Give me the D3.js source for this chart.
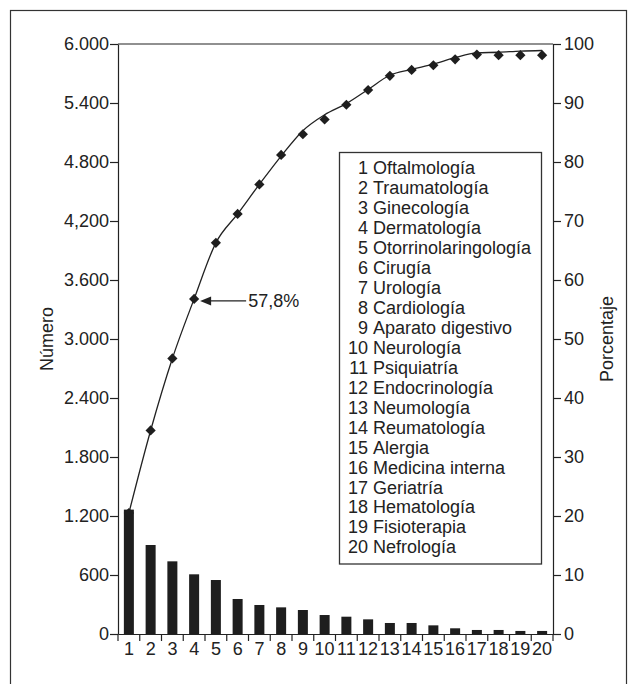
<!DOCTYPE html>
<html lang="es">
<head>
<meta charset="UTF-8">
<script src="https://d3js.org/d3.v7.min.js"></script>
<title>Pareto</title>
<style>
  body { margin: 0; background: #fff; }
  text { font-family: "Liberation Sans", Arial, sans-serif; fill: #222; }
  .axis path, .axis line { stroke: #222; stroke-width: 1.2; }
  .axis text { font-size: 18px; }
</style>
</head>
<body>
<div id="chart"></div>
<script>
// numero de especialidad (eje x)
const categories = d3.range(1, 21);
// numero de pacientes por especialidad
const counts = [1265, 905, 739, 607, 549, 356, 295, 271, 244, 193,
                176, 149, 112, 112, 88, 58, 41, 41, 31, 31];
// porcentaje acumulado (rombos)
const cumPct = [20.5, 34.5, 46.7, 56.8, 66.3, 71.2, 76.2, 81.2, 84.7, 87.2,
                89.7, 92.2, 94.6, 95.6, 96.4, 97.4, 98.2, 98.1, 98.1, 98.1];
// linea acumulada
const linePct = [20.5, 34.5, 46.7, 56.8, 66.3, 71.2, 76.2, 81.0, 85.3, 88.0,
                 89.9, 92.3, 94.7, 95.7, 96.6, 97.7, 98.5, 98.6, 98.8, 98.9];
const leftTicks = [0, 600, 1200, 1800, 2400, 3000, 3600, 4200, 4800, 5400, 6000];
const leftTickLabels = ["0", "600", "1.200", "1.800", "2.400", "3.000", "3.600", "4,200", "4.800", "5.400", "6.000"];
const rightTicks = [0, 10, 20, 30, 40, 50, 60, 70, 80, 90, 100];
const specialties = ["Oftalmología", "Traumatología", "Ginecología", "Dermatología",
  "Otorrinolaringología", "Cirugía", "Urología", "Cardiología", "Aparato digestivo",
  "Neurología", "Psiquiatría", "Endocrinología", "Neumología", "Reumatología",
  "Alergia", "Medicina interna", "Geriatría", "Hematología", "Fisioterapia", "Nefrología"];

const W = 634, H = 684;
const margin = {top: 44, right: 81, bottom: 50, left: 118};

const svg = d3.select("#chart").append("svg")
    .attr("width", W)
    .attr("height", H);

// marco exterior
svg.append("rect")
    .attr("x", 10.5).attr("y", 10.5)
    .attr("width", 616).attr("height", 720)
    .attr("fill", "none").attr("stroke", "#333").attr("stroke-width", 1.2);

const x = d3.scaleBand()
    .domain(categories)
    .range([margin.left, W - margin.right])
    .paddingInner(0.54).paddingOuter(0.27);

const yL = d3.scaleLinear().domain([0, 6000]).range([H - margin.bottom, margin.top]);
const yR = d3.scaleLinear().domain([0, 100]).range([H - margin.bottom, margin.top]);

// barras
svg.selectAll(".bar")
    .data(counts)
    .enter().append("rect")
    .attr("class", "bar")
    .attr("x", (d, i) => x(categories[i]))
    .attr("width", x.bandwidth())
    .attr("y", d => yL(d))
    .attr("height", d => yL(0) - yL(d))
    .attr("fill", "#1e1e1e");

// borde superior
svg.append("line")
    .attr("x1", margin.left).attr("x2", W - margin.right)
    .attr("y1", yL(6000)).attr("y2", yL(6000))
    .attr("stroke", "#222").attr("stroke-width", 1.2);

// eje izquierdo
svg.append("g")
    .attr("class", "axis")
    .attr("transform", "translate(" + margin.left + ",0)")
    .call(d3.axisLeft(yL).tickValues(leftTicks).tickSizeInner(8).tickSizeOuter(0).tickPadding(1)
        .tickFormat((d, i) => leftTickLabels[i]));

// eje derecho
svg.append("g")
    .attr("class", "axis")
    .attr("transform", "translate(" + (W - margin.right) + ",0)")
    .call(d3.axisRight(yR).tickValues(rightTicks).tickSizeInner(8).tickSizeOuter(0).tickPadding(3));

// eje x
const step = x.step();
const xStart = margin.left;
const gx = svg.append("g")
    .attr("class", "axis")
    .attr("transform", "translate(0," + yL(0) + ")")
    .call(d3.axisBottom(x).tickSize(0).tickPadding(10));
gx.selectAll(".tick text").attr("dy", "0.6em");
gx.selectAll(".sep")
    .data(d3.range(categories.length + 1))
    .enter().append("line")
    .attr("class", "sep")
    .attr("x1", i => xStart + i * step).attr("x2", i => xStart + i * step)
    .attr("y1", 0).attr("y2", 7);

// titulos de ejes
svg.append("text")
    .attr("transform", "translate(53," + ((yL(0) + yL(6000)) / 2) + ") rotate(-90)")
    .attr("text-anchor", "middle")
    .style("font-size", "18px")
    .text("Número");
svg.append("text")
    .attr("transform", "translate(613," + ((yL(0) + yL(6000)) / 2) + ") rotate(-90)")
    .attr("text-anchor", "middle")
    .style("font-size", "18px")
    .text("Porcentaje");

// linea acumulada
const cx = i => x(categories[i]) + x.bandwidth() / 2;
svg.append("path")
    .datum(linePct)
    .attr("fill", "none")
    .attr("stroke", "#222")
    .attr("stroke-width", 1.3)
    .attr("d", d3.line().x((d, i) => cx(i)).y(d => yR(d)).curve(d3.curveMonotoneX));

// rombos
svg.selectAll(".mark")
    .data(cumPct)
    .enter().append("path")
    .attr("class", "mark")
    .attr("transform", (d, i) => "translate(" + cx(i) + "," + yR(d) + ") rotate(45)")
    .attr("d", d3.symbol(d3.symbolSquare).size(52))
    .attr("fill", "#1e1e1e");

// anotacion 57,8%
const ax = cx(3), ay = yR(cumPct[3]);
svg.append("line")
    .attr("x1", ax + 14).attr("x2", ax + 52)
    .attr("y1", ay + 2).attr("y2", ay + 2)
    .attr("stroke", "#222").attr("stroke-width", 1.3);
svg.append("path")
    .attr("d", "M" + (ax + 6) + "," + (ay + 2) + "L" + (ax + 17) + "," + (ay - 2.5) + "L" + (ax + 17) + "," + (ay + 6.5) + "Z")
    .attr("fill", "#222");
svg.append("text")
    .attr("x", ax + 54).attr("y", ay + 8)
    .style("font-size", "18px")
    .text("57,8%");

// leyenda
const lg = svg.append("g");
lg.append("rect")
    .attr("x", 339.5).attr("y", 152.5)
    .attr("width", 202).attr("height", 411.5)
    .attr("fill", "#fff").attr("stroke", "#333").attr("stroke-width", 1.3);
const rows = lg.selectAll(".row")
    .data(specialties)
    .enter().append("g")
    .attr("transform", (d, i) => "translate(0," + (174.3 + i * 19.95) + ")");
rows.append("text")
    .attr("x", 368).attr("text-anchor", "end")
    .style("font-size", "18px")
    .text((d, i) => categories[i]);
rows.append("text")
    .attr("x", 373)
    .style("font-size", "18px")
    .text(d => d);
</script>
</body>
</html>
